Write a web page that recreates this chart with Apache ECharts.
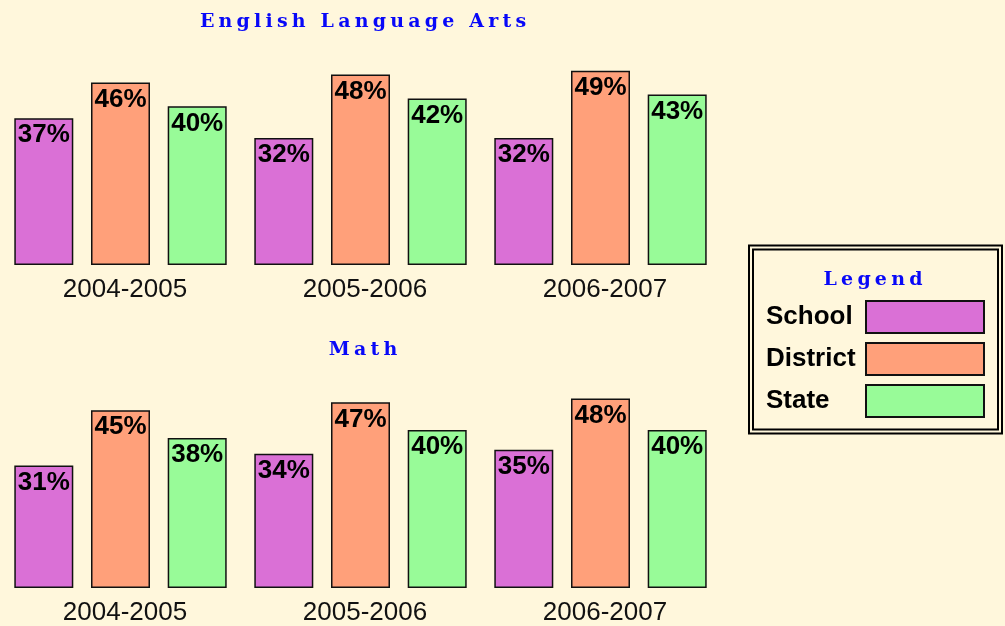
<!DOCTYPE html>
<html>
<head>
<meta charset="utf-8">
<script src="https://cdn.jsdelivr.net/npm/echarts@6/dist/echarts.min.js"></script>
<style>
  html, body { margin: 0; padding: 0; background: #FFF7DC; }
  #chart { width: 1005px; height: 626px; }
</style>
</head>
<body>
<div id="chart"></div>
<script>
// values
let years = ['2004-2005', '2005-2006', '2006-2007']
let elaSchool = [37, 32, 32]
let elaDistrict = [46, 48, 49]
let elaState = [40, 42, 43]
let mathSchool = [31, 34, 35]
let mathDistrict = [45, 47, 48]
let mathState = [38, 40, 40]

let names = ['School', 'District', 'State']
let colors = ['#DA70D6', '#FFA07A', '#98FB98']

let myChart = echarts.init(document.getElementById('chart'))

let barLabel = {
  show: true,
  position: 'insideTop',
  distance: 4,
  formatter: '{c}%',
  color: '#000',
  fontFamily: 'Liberation Sans',
  fontWeight: 'bold',
  fontSize: 26
}

function makeSeries(data, i, axis) {
  return {
    type: 'bar',
    name: names[i],
    data: data,
    xAxisIndex: axis,
    yAxisIndex: axis,
    barWidth: 59,
    barGap: '30%',
    itemStyle: { color: colors[i], borderColor: '#111', borderWidth: 1.5 },
    label: barLabel,
    emphasis: { disabled: true }
  }
}

// spaced-out serif headings: each letter is its own rich token with a little padding
let spacedStyle = {
  rich: {
    c: { color: '#0808F8', fontFamily: 'DejaVu Serif', fontWeight: 'bold', fontSize: 19, padding: [0, 2.1] }
  }
}
function spaced(s) {
  return s.split('').map(ch => '{c|' + ch + '}').join('')
}

let xAxisCommon = {
  type: 'category',
  data: years,
  axisLine: { show: false },
  axisTick: { show: false },
  axisLabel: { color: '#111', fontFamily: 'Liberation Sans', fontSize: 26, margin: 12, padding: [0, 0, 0, 9] }
}

let option = {
  backgroundColor: '#FFF7DC',
  animation: false,
  title: [
    { text: spaced('English Language Arts'), left: 358, top: 8, textAlign: 'center', textStyle: spacedStyle },
    { text: spaced('Math'), left: 358, top: 336, textAlign: 'center', textStyle: spacedStyle },
    { text: spaced('Legend'), left: 868, top: 266, textAlign: 'center', textStyle: spacedStyle }
  ],
  legend: {
    orient: 'vertical',
    left: 761,
    top: 295,
    align: 'right',
    itemWidth: 118,
    itemHeight: 32,
    itemGap: 8,
    icon: 'rect',
    selectedMode: false,
    data: names,
    formatter: name => '{n|' + name + '}',
    textStyle: {
      rich: {
        n: { width: 95, lineHeight: 30, align: 'left', color: '#000', fontFamily: 'Liberation Sans', fontWeight: 'bold', fontSize: 26 }
      }
    }
  },
  graphic: [
    { type: 'rect', shape: { x: 749, y: 245.5, width: 253, height: 188 }, style: { fill: null, stroke: '#000', lineWidth: 2 } },
    { type: 'rect', shape: { x: 753, y: 249.5, width: 245, height: 180 }, style: { fill: null, stroke: '#000', lineWidth: 2 } }
  ],
  grid: [
    { left: 0.5, width: 720, top: 27, height: 238 },
    { left: 0.5, width: 720, top: 351, height: 238 }
  ],
  xAxis: [
    Object.assign({ gridIndex: 0 }, xAxisCommon),
    Object.assign({ gridIndex: 1 }, xAxisCommon)
  ],
  yAxis: [
    { type: 'value', gridIndex: 0, min: 0, max: 60, show: false },
    { type: 'value', gridIndex: 1, min: 0, max: 60, show: false }
  ],
  series: [
    makeSeries(elaSchool, 0, 0),
    makeSeries(elaDistrict, 1, 0),
    makeSeries(elaState, 2, 0),
    makeSeries(mathSchool, 0, 1),
    makeSeries(mathDistrict, 1, 1),
    makeSeries(mathState, 2, 1)
  ]
}

myChart.setOption(option)
</script>
</body>
</html>
